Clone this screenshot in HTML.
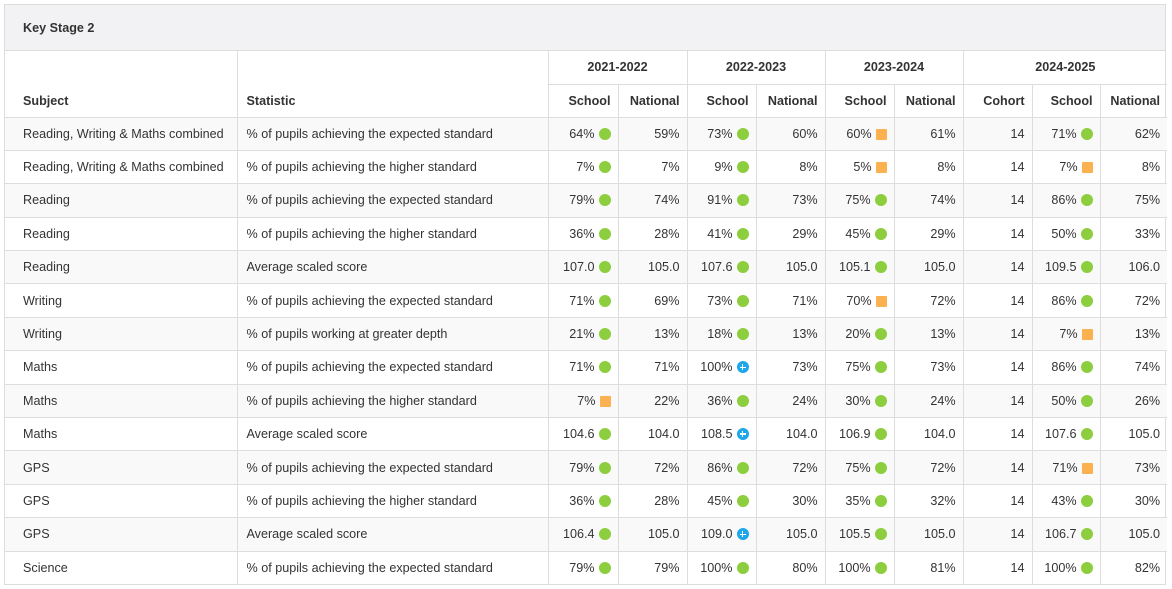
<!DOCTYPE html><html><head><meta charset="utf-8"><style>
body{margin:0;background:#fff;font-family:"Liberation Sans",Arial,sans-serif;font-size:12.6px;color:#333}
.box{position:absolute;left:4px;top:4px;width:1160px;height:579px;border:1px solid #ddd}
.ttl{height:46px;background:#f2f2f4;border-bottom:1px solid #ddd;font-weight:bold;line-height:46px;padding-left:18px;box-sizing:border-box}
table{border-collapse:collapse;table-layout:fixed;width:1160px}
td,th{border:1px solid #ddd;padding:0 7px;white-space:nowrap;overflow:hidden}
thead tr:first-child>*{border-top:none}
tr>*:first-child{border-left:none}tr>*:last-child{border-right:none}
th{font-weight:bold;text-align:right}
tbody tr{height:33.4px}
tbody tr:last-child>*{border-bottom:none}
tbody tr:nth-child(odd){background:#f9f9f9}
td{text-align:right}
td.l,th.l{text-align:left;padding-left:18px}
td.s,th.s{text-align:left;padding-left:9px}
th.c{text-align:center}
i{display:inline-block;width:12px;height:12px;border-radius:50%;vertical-align:-2px;margin-left:4px;position:relative}
i.g{background:#8dce3f}
i.o{background:#fbb14f;border-radius:1px;width:11px;height:11px}
i.b{background:#1ea7e9}
i.b:before{content:"";position:absolute;left:3px;top:5.25px;width:6px;height:1.5px;background:#fff}
i.b:after{content:"";position:absolute;left:5.25px;top:3px;width:1.5px;height:6px;background:#fff}
</style></head><body><div class="box"><div class="ttl">Key Stage 2</div>
<table><colgroup><col style="width:232px"><col style="width:311px"><col style="width:70px"><col style="width:69px"><col style="width:69px"><col style="width:69px"><col style="width:69px"><col style="width:69px"><col style="width:69px"><col style="width:68px"><col style="width:67px"></colgroup>
<thead><tr style="height:33px"><th class="l" rowspan="2" style="vertical-align:bottom;padding-bottom:9px">Subject</th><th class="s" rowspan="2" style="vertical-align:bottom;padding-bottom:9px">Statistic</th><th class="c" colspan="2">2021-2022</th><th class="c" colspan="2">2022-2023</th><th class="c" colspan="2">2023-2024</th><th class="c" colspan="3">2024-2025</th></tr>
<tr style="height:33px"><th>School</th><th>National</th><th>School</th><th>National</th><th>School</th><th>National</th><th>Cohort</th><th>School</th><th>National</th></tr></thead>
<tbody>
<tr><td class="l">Reading, Writing &amp; Maths combined</td><td class="s">% of pupils achieving the expected standard</td><td>64%<i class="g"></i></td><td>59%</td><td>73%<i class="g"></i></td><td>60%</td><td>60%<i class="o"></i></td><td>61%</td><td>14</td><td>71%<i class="g"></i></td><td>62%</td></tr>
<tr><td class="l">Reading, Writing &amp; Maths combined</td><td class="s">% of pupils achieving the higher standard</td><td>7%<i class="g"></i></td><td>7%</td><td>9%<i class="g"></i></td><td>8%</td><td>5%<i class="o"></i></td><td>8%</td><td>14</td><td>7%<i class="o"></i></td><td>8%</td></tr>
<tr><td class="l">Reading</td><td class="s">% of pupils achieving the expected standard</td><td>79%<i class="g"></i></td><td>74%</td><td>91%<i class="g"></i></td><td>73%</td><td>75%<i class="g"></i></td><td>74%</td><td>14</td><td>86%<i class="g"></i></td><td>75%</td></tr>
<tr><td class="l">Reading</td><td class="s">% of pupils achieving the higher standard</td><td>36%<i class="g"></i></td><td>28%</td><td>41%<i class="g"></i></td><td>29%</td><td>45%<i class="g"></i></td><td>29%</td><td>14</td><td>50%<i class="g"></i></td><td>33%</td></tr>
<tr><td class="l">Reading</td><td class="s">Average scaled score</td><td>107.0<i class="g"></i></td><td>105.0</td><td>107.6<i class="g"></i></td><td>105.0</td><td>105.1<i class="g"></i></td><td>105.0</td><td>14</td><td>109.5<i class="g"></i></td><td>106.0</td></tr>
<tr><td class="l">Writing</td><td class="s">% of pupils achieving the expected standard</td><td>71%<i class="g"></i></td><td>69%</td><td>73%<i class="g"></i></td><td>71%</td><td>70%<i class="o"></i></td><td>72%</td><td>14</td><td>86%<i class="g"></i></td><td>72%</td></tr>
<tr><td class="l">Writing</td><td class="s">% of pupils working at greater depth</td><td>21%<i class="g"></i></td><td>13%</td><td>18%<i class="g"></i></td><td>13%</td><td>20%<i class="g"></i></td><td>13%</td><td>14</td><td>7%<i class="o"></i></td><td>13%</td></tr>
<tr><td class="l">Maths</td><td class="s">% of pupils achieving the expected standard</td><td>71%<i class="g"></i></td><td>71%</td><td>100%<i class="b"></i></td><td>73%</td><td>75%<i class="g"></i></td><td>73%</td><td>14</td><td>86%<i class="g"></i></td><td>74%</td></tr>
<tr><td class="l">Maths</td><td class="s">% of pupils achieving the higher standard</td><td>7%<i class="o"></i></td><td>22%</td><td>36%<i class="g"></i></td><td>24%</td><td>30%<i class="g"></i></td><td>24%</td><td>14</td><td>50%<i class="g"></i></td><td>26%</td></tr>
<tr><td class="l">Maths</td><td class="s">Average scaled score</td><td>104.6<i class="g"></i></td><td>104.0</td><td>108.5<i class="b"></i></td><td>104.0</td><td>106.9<i class="g"></i></td><td>104.0</td><td>14</td><td>107.6<i class="g"></i></td><td>105.0</td></tr>
<tr><td class="l">GPS</td><td class="s">% of pupils achieving the expected standard</td><td>79%<i class="g"></i></td><td>72%</td><td>86%<i class="g"></i></td><td>72%</td><td>75%<i class="g"></i></td><td>72%</td><td>14</td><td>71%<i class="o"></i></td><td>73%</td></tr>
<tr><td class="l">GPS</td><td class="s">% of pupils achieving the higher standard</td><td>36%<i class="g"></i></td><td>28%</td><td>45%<i class="g"></i></td><td>30%</td><td>35%<i class="g"></i></td><td>32%</td><td>14</td><td>43%<i class="g"></i></td><td>30%</td></tr>
<tr><td class="l">GPS</td><td class="s">Average scaled score</td><td>106.4<i class="g"></i></td><td>105.0</td><td>109.0<i class="b"></i></td><td>105.0</td><td>105.5<i class="g"></i></td><td>105.0</td><td>14</td><td>106.7<i class="g"></i></td><td>105.0</td></tr>
<tr><td class="l">Science</td><td class="s">% of pupils achieving the expected standard</td><td>79%<i class="g"></i></td><td>79%</td><td>100%<i class="g"></i></td><td>80%</td><td>100%<i class="g"></i></td><td>81%</td><td>14</td><td>100%<i class="g"></i></td><td>82%</td></tr>
</tbody></table></div></body></html>
